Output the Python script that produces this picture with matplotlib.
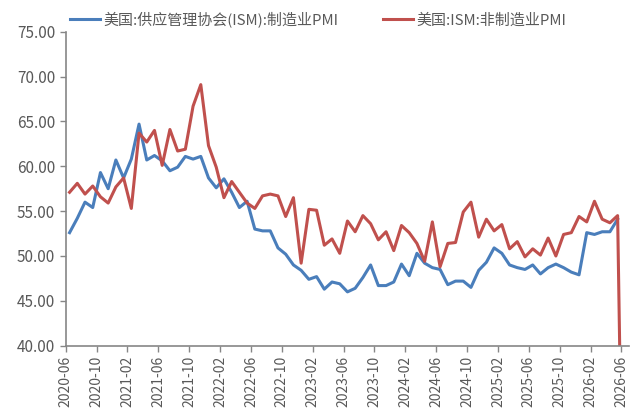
import numpy as np
import matplotlib
matplotlib.use("Agg")
import matplotlib.pyplot as plt

plt.rcParams['font.family'] = ['Noto Sans CJK SC', 'DejaVu Sans']

# monthly data 2020-06 .. 2026-06
months = ["%d-%02d" % (2020 + (5 + i) // 12, (5 + i) % 12 + 1) for i in range(73)]

# ISM manufacturing PMI
mfg = [52.6, 54.2, 56.0, 55.4, 59.3, 57.5, 60.7, 58.7, 60.8, 64.7,
       60.7, 61.2, 60.6, 59.5, 59.9, 61.1, 60.8, 61.1, 58.7, 57.6,
       58.6, 57.1, 55.4, 56.1, 53.0, 52.8, 52.8, 50.9, 50.2, 49.0,
       48.4, 47.4, 47.7, 46.3, 47.1, 46.9, 46.0, 46.4, 47.6, 49.0,
       46.7, 46.7, 47.1, 49.1, 47.8, 50.3, 49.2, 48.7, 48.5, 46.8,
       47.2, 47.2, 46.5, 48.4, 49.3, 50.9, 50.3, 49.0, 48.7, 48.5,
       49.0, 48.0, 48.7, 49.1, 48.7, 48.2, 47.9, 52.6, 52.4, 52.7,
       52.7, 54.1, np.nan]

# ISM non-manufacturing PMI (last value 0)
nonmfg = [57.1, 58.1, 56.9, 57.8, 56.6, 55.9, 57.7, 58.7, 55.3, 63.7,
          62.7, 64.0, 60.1, 64.1, 61.7, 61.9, 66.7, 69.1, 62.3, 59.9,
          56.5, 58.3, 57.1, 55.9, 55.3, 56.7, 56.9, 56.7, 54.4, 56.5,
          49.2, 55.2, 55.1, 51.2, 51.9, 50.3, 53.9, 52.7, 54.5, 53.6,
          51.8, 52.7, 50.6, 53.4, 52.6, 51.4, 49.4, 53.8, 48.8, 51.4,
          51.5, 54.9, 56.0, 52.1, 54.1, 52.8, 53.5, 50.8, 51.6, 49.9,
          50.8, 50.1, 52.0, 50.0, 52.4, 52.6, 54.4, 53.8, 56.1, 54.1,
          53.7, 54.5, 0.0]

labels = ["美国:供应管理协会(ISM):制造业PMI", "美国:ISM:非制造业PMI"]
x = np.arange(len(months))

fig = plt.figure(figsize=(6.33, 4.08), dpi=100)
ax = fig.add_axes([0.1038, 0.1527, 0.8902, 0.7696])

ax.plot(x, mfg, color="#4a7ebb", lw=2.2, label=labels[0])
ax.plot(x, nonmfg, color="#c0504d", lw=2.2, label=labels[1])

ax.set_ylim(40, 75)
ax.set_yticks(np.arange(40, 76, 5))
ax.set_yticklabels(["%.2f" % v for v in np.arange(40, 76, 5)])
ax.set_xlim(-0.5, 72.5)
tick_idx = np.arange(0, 73, 4)
ax.set_xticks(tick_idx - 0.5)
ax.set_xticklabels([months[i] for i in tick_idx], rotation=90)

for s in ["top", "right"]:
    ax.spines[s].set_visible(False)
for s in ["left", "bottom"]:
    ax.spines[s].set_color("#868686")
    ax.spines[s].set_linewidth(1.2)
ax.tick_params(axis="both", colors="#868686", labelcolor="#595959",
               length=4, width=1)
ax.tick_params(axis="y", labelsize=11)
ax.tick_params(axis="x", labelsize=10, pad=3)

fig.legend(loc="center", bbox_to_anchor=(0.503, 0.952), ncol=2, frameon=False,
           fontsize=10.8, handlelength=2.0, handletextpad=0.2, columnspacing=3.0,
           labelcolor="#595959")

fig.savefig("out.png", dpi=100)
